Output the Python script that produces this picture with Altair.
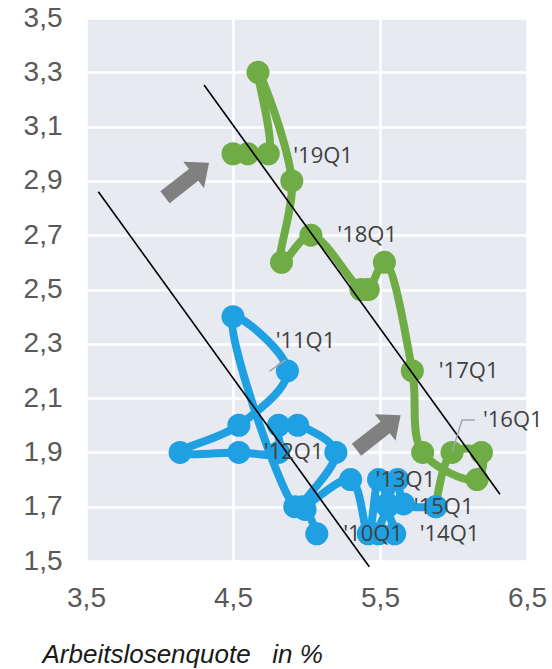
import altair as alt
import pandas as pd

# Blue series: 2010 .. 2015
blue_x = [5.07, 4.99, 4.92, 4.50, 4.87, 4.54, 4.14, 4.54, 4.81, 4.81, 4.94, 5.20,
          4.97, 5.30, 5.42, 5.49, 5.55, 5.49, 5.60, 5.55, 5.62, 5.66, 5.88]
blue_y = [1.60, 1.69, 1.70, 2.40, 2.20, 2.00, 1.90, 1.90, 1.90, 2.00, 2.00, 1.90,
          1.70, 1.80, 1.60, 1.80, 1.71, 1.60, 1.60, 1.70, 1.80, 1.71, 1.70]

# Green series: 2015Q4 .. 2019Q3
green_x = [5.88, 5.99, 6.19, 6.16, 5.79, 5.72, 5.53, 5.42, 5.37, 5.03, 4.83, 4.90,
           4.67, 4.74, 4.60, 4.50]
green_y = [1.70, 1.90, 1.90, 1.80, 1.90, 2.20, 2.60, 2.50, 2.50, 2.70, 2.60, 2.90,
           3.30, 3.00, 3.00, 3.00]

label_text = ["'10Q1", "'11Q1", "'12Q1", "'13Q1", "'14Q1", "'15Q1", "'16Q1", "'17Q1", "'18Q1", "'19Q1"]
label_x = [5.25, 4.79, 4.71, 5.47, 5.77, 5.73, 6.20, 5.90, 5.21, 4.91]
label_y = [1.60, 2.31, 1.90, 1.80, 1.60, 1.70, 2.02, 2.20, 2.70, 2.99]

leader_group = ["11", "11", "16", "16", "16"]
leader_x = [4.857, 4.748, 6.146, 6.058, 5.990]
leader_y = [2.240, 2.199, 2.019, 2.019, 1.901]

trend_group = ["a", "a", "b", "b"]
trend_x = [3.584, 5.427, 4.303, 6.316]
trend_y = [2.860, 1.479, 3.253, 1.746]

arrow_x = [4.187, 5.49]
arrow_y = [2.903, 1.973]

x_ticks = [3.5, 4.5, 5.5, 6.5]
y_ticks = [1.5, 1.7, 1.9, 2.1, 2.3, 2.5, 2.7, 2.9, 3.1, 3.3, 3.5]

blue = pd.DataFrame({"x": blue_x, "y": blue_y, "i": range(len(blue_x))})
green = pd.DataFrame({"x": green_x, "y": green_y, "i": range(len(green_x))})
labels = pd.DataFrame({"x": label_x, "y": label_y, "t": label_text})
leaders = pd.DataFrame({"x": leader_x, "y": leader_y, "g": leader_group,
                        "i": range(len(leader_x))})
trends = pd.DataFrame({"x": trend_x, "y": trend_y, "g": trend_group})
arrows = pd.DataFrame({"x": arrow_x, "y": arrow_y})

fmt = "replace(format(datum.value, '.1f'), '.', ',')"

xaxis = alt.Axis(values=x_ticks, labelExpr=fmt, title="Arbeitslosenquote\u00a0\u00a0 in %",
                 titleFont="Liberation Sans", titleFontStyle="italic", titleFontWeight="normal",
                 titleFontSize=26, titleColor="#1a1a1a", titleAnchor="start", titleAlign="left",
                 titleX=-44, titleY=101, titleBaseline="alphabetic",
                 labelFont="Liberation Sans", labelFontSize=28, labelColor="#595959",
                 labelPadding=23, labelFlush=False, domain=False, ticks=False,
                 gridColor="white", gridWidth=2.5)
yaxis = alt.Axis(values=y_ticks, labelExpr=fmt, title="",
                 labelFont="Liberation Sans", labelFontSize=28, labelColor="#595959",
                 labelPadding=24, labelFlush=False, domain=False, ticks=False,
                 gridColor="white", gridWidth=2.5)

xs = alt.Scale(domain=[3.5, 6.5], nice=False, zero=False)
ys = alt.Scale(domain=[1.5, 3.5], nice=False, zero=False)


def X():
    return alt.X("x:Q", scale=xs, axis=xaxis)


def Y():
    return alt.Y("y:Q", scale=ys, axis=yaxis)


GREEN = "#6FAC46"
BLUE = "#1FA0E2"

green_line = alt.Chart(green).mark_line(color=GREEN, strokeWidth=8, interpolate="catmull-rom",
                                        clip=False).encode(x=X(), y=Y(), order="i:Q")
green_pts = alt.Chart(green).mark_circle(color=GREEN, size=530, opacity=1).encode(x=X(), y=Y())
blue_line = alt.Chart(blue).mark_line(color=BLUE, strokeWidth=8, interpolate="catmull-rom",
                                      clip=False).encode(x=X(), y=Y(), order="i:Q")
blue_pts = alt.Chart(blue).mark_circle(color=BLUE, size=530, opacity=1).encode(x=X(), y=Y())

trend = alt.Chart(trends).mark_line(color="black", strokeWidth=1.6, clip=False).encode(
    x=X(), y=Y(), detail="g:N")

arrow_path = "M-1,-0.27L0.3,-0.27L0.3,-0.6L1,0L0.3,0.6L0.3,0.27L-1,0.27Z"
arrow = alt.Chart(arrows).mark_point(shape=arrow_path, filled=True, size=3136, color="#808080",
                                     opacity=1, angle=322, strokeWidth=0).encode(x=X(), y=Y())

leader = alt.Chart(leaders).mark_line(color="#A6A6A6", strokeWidth=1.5).encode(
    x=X(), y=Y(), detail="g:N", order="i:Q")

text = alt.Chart(labels).mark_text(align="left", baseline="middle", font="Open Sans",
                                   fontSize=22, color="#404040").encode(x=X(), y=Y(), text="t:N")

chart = alt.layer(green_line, green_pts, blue_line, blue_pts, trend, arrow, leader, text).properties(
    width=441, height=543,
    padding={"left": 86, "top": 18, "right": 25, "bottom": 108},
    autosize="none",
    background="white",
).configure_view(stroke=None, fill="#E8EAF1")

chart.save("out.html", embed_options={"renderer": "svg", "actions": False})
